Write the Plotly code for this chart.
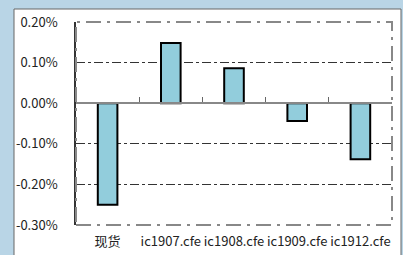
import plotly.graph_objects as go

categories = ["现货", "ic1907.cfe", "ic1908.cfe", "ic1909.cfe", "ic1912.cfe"]
values = [-0.0025, 0.00148, 0.00086, -0.00044, -0.00138]
tick_vals = [0.002, 0.001, 0.0, -0.001, -0.002, -0.003]
tick_text = ["0.20%", "0.10%", "0.00%", "-0.10%", "-0.20%", "-0.30%"]

W, H = 403, 255
L, R, T, B = 76, 11, 22, 30

fig = go.Figure()
fig.add_trace(go.Bar(
    x=categories, y=values,
    marker=dict(color="#92CDDC", line=dict(color="#000000", width=2)),
    width=0.31,
))
# invisible trace to drive the axis at zero with boundary ticks
fig.add_trace(go.Scatter(x=categories, y=[0]*5, mode="markers",
                         marker=dict(opacity=0), xaxis="x2", yaxis="y",
                         hoverinfo="skip", showlegend=False))

zero_pos = (0 - (-0.003)) / (0.002 - (-0.003))

fig.update_layout(
    width=W, height=H,
    margin=dict(l=L, r=R, t=T, b=B, autoexpand=False),
    paper_bgcolor="#B9D5E6",
    plot_bgcolor="white",
    showlegend=False,
    font=dict(family="Noto Sans CJK SC, Noto Sans", size=12, color="#222"),
    xaxis=dict(
        type="category", showgrid=False, ticks="", showline=False,
        tickfont=dict(size=13, color="#222"), ticklabelstandoff=7,
        tickangle=0, zeroline=False, automargin=False,
    ),
    xaxis2=dict(
        type="category", overlaying="x", anchor="free", position=zero_pos,
        side="bottom", showticklabels=False, ticks="inside", ticklen=5,
        tickcolor="#666", tickwidth=1.2, tickson="boundaries", showline=True,
        linecolor="#888", linewidth=1.5, showgrid=False, zeroline=False,
        matches="x", automargin=False,
    ),
    yaxis=dict(
        range=[-0.003, 0.002], tickvals=tick_vals, ticktext=tick_text,
        showgrid=True, gridcolor="#333", griddash="dashdot", gridwidth=0.7,
        zeroline=False, showline=True, linecolor="#333", linewidth=1.5,
        ticks="", tickfont=dict(size=13, color="#222"), ticklabelstandoff=14,
        automargin=False,
    ),
    shapes=[
        dict(type="rect", xref="paper", yref="paper",
             x0=(14 - L) / (W - L - R), x1=(401 - L) / (W - L - R),
             y0=-(B + 5) / (H - T - B), y1=1 + (T - 9) / (H - T - B),
             line=dict(color="#666", width=1), fillcolor="white", layer="below"),
        dict(type="rect", xref="paper", yref="paper", x0=0, x1=1, y0=0, y1=1,
             line=dict(color="#888", width=2, dash="longdashdot"),
             fillcolor="rgba(0,0,0,0)", layer="above"),
    ],
)

fig.write_html("out.html", config={"displayModeBar": False},
               post_script="document.body.style.margin='0';document.body.style.overflow='hidden';")
